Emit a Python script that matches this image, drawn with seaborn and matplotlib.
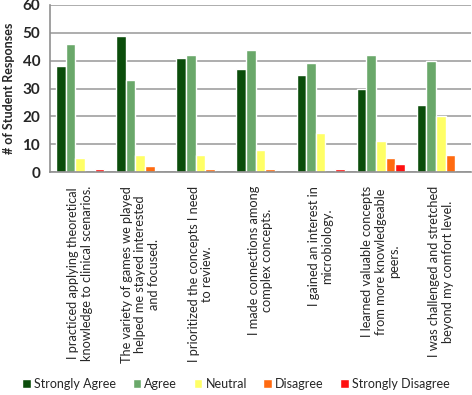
import pandas as pd
import matplotlib.pyplot as plt
import seaborn as sns
from matplotlib.ticker import FixedLocator

# statements (wrapped as in the original chart)
statements = [
    "I practiced applying theoretical\nknowledge to clinical scenarios.",
    "The variety of games we played\nhelped me stayed interested\nand focused.",
    "I prioritized the concepts I need\nto review.",
    "I made connections among\ncomplex concepts.",
    "I gained an interest in\nmicrobiology.",
    "I learned valuable concepts\nfrom more knowledgeable\npeers.",
    "I was challenged and stretched\nbeyond my comfort level.",
]
responses = ["Strongly Agree", "Agree", "Neutral", "Disagree", "Strongly Disagree"]

strongly_agree = [38, 49, 41, 37, 35, 30, 24]
agree = [46, 33, 42, 44, 39, 42, 40]
neutral = [5, 6, 6, 8, 14, 11, 20]
disagree = [0, 2, 1, 1, 0, 5, 6]
strongly_disagree = [1, 0, 0, 0, 1, 3, 0]

colors = ["#0b4d0b", "#6aa86a", "#ffff66", "#ff6a10", "#ff1010"]

# Build long table for seaborn
rows = []
for resp, vals in zip(responses, [strongly_agree, agree, neutral, disagree, strongly_disagree]):
    for stmt, v in zip(statements, vals):
        rows.append({"Statement": stmt, "Response": resp, "Count": v})
df = pd.DataFrame(rows)

sns.set_style("white")
plt.rcParams['font.family'] = ['Lato', 'DejaVu Sans']

fig, ax = plt.subplots(figsize=(4.72, 3.95), dpi=100)
fig.subplots_adjust(left=50/472, right=471/472, top=1-5/395, bottom=1-172/395)

sns.barplot(data=df, x="Statement", y="Count", hue="Response", order=statements,
            hue_order=responses, palette=colors, width=0.8, gap=0.0,
            saturation=1, ax=ax, legend=True)

ax.set_ylim(0, 60)
ax.set_xlim(-0.5, len(statements) - 0.5)
ax.set_yticks(range(0, 61, 10))
ax.yaxis.grid(True, color="#a0a0a0", linewidth=1.2)
ax.set_axisbelow(True)
for s in ["top", "right"]:
    ax.spines[s].set_visible(False)
ax.spines["left"].set_color("#909090")
ax.spines["bottom"].set_color("#909090")
ax.spines["left"].set_linewidth(1.2)
ax.spines["bottom"].set_linewidth(1.2)

ax.set_ylabel("# of Student Responses", fontsize=9, fontweight="bold", labelpad=5)
ax.set_xlabel("")
ax.tick_params(axis="y", labelsize=11, length=0, pad=7)
for t in ax.get_yticklabels():
    t.set_fontweight("bold")

ax.set_xticks(range(len(statements)))
ax.set_xticklabels(statements, rotation=90, fontsize=9.2, ha="center", va="top",
                   multialignment="center", linespacing=1.15)
ax.tick_params(axis="x", length=0, pad=10)
# small boundary ticks between groups
ax.xaxis.set_minor_locator(FixedLocator([i - 0.5 for i in range(len(statements) + 1)]))
ax.tick_params(axis="x", which="minor", length=4, color="#909090", width=1)

handles, labels = ax.get_legend_handles_labels()
ax.get_legend().remove()
fig.legend(handles, labels, loc="center", bbox_to_anchor=(0.5, 1 - 384/395), ncol=5,
           frameon=False, fontsize=9, handlelength=0.7, handleheight=0.7,
           handletextpad=0.25, columnspacing=1.3)

plt.savefig("out.png", dpi=100)
plt.close()
